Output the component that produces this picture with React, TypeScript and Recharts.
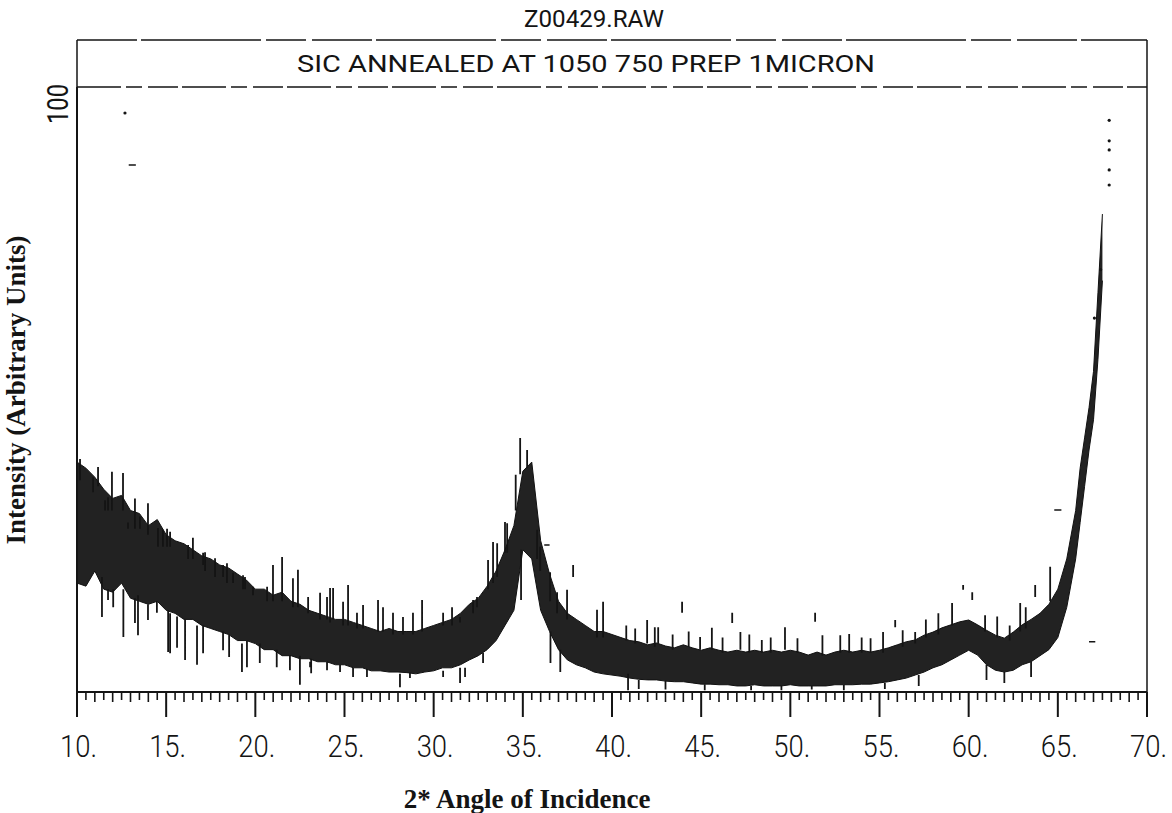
import React from 'react';
import { ComposedChart, Area, Line, XAxis, YAxis, ReferenceLine } from 'recharts';

// scan angle (2 theta) and the dark band of counts
const angles = [
  10, 10.5, 11, 11.5, 12, 12.5, 13, 13.5, 14, 14.5, 15, 15.5, 16, 16.5, 17, 17.5, 18, 18.5, 19, 19.5,
  20, 20.5, 21, 21.5, 22, 22.5, 23, 23.5, 24, 24.5, 25, 25.5, 26, 26.5, 27, 27.5, 28, 28.5, 29, 29.5,
  30, 30.5, 31, 31.5, 32, 32.5, 33, 33.5, 34, 34.5, 35, 35.5, 36, 36.5, 37, 37.5, 38, 38.5, 39, 39.5,
  40, 40.5, 41, 41.5, 42, 42.5, 43, 43.5, 44, 44.5, 45, 45.5, 46, 46.5, 47, 47.5, 48, 48.5, 49, 49.5,
  50, 50.5, 51, 51.5, 52, 52.5, 53, 53.5, 54, 54.5, 55, 55.5, 56, 56.5, 57, 57.5, 58, 58.5, 59, 59.5,
  60, 60.5, 61, 61.5, 62, 62.5, 63, 63.5, 64, 64.5, 65, 65.5, 66, 66.25, 66.5, 66.75, 67, 67.25, 67.5,
];
const bandHigh = [
  38, 37, 35.5, 33.5, 32, 32.5, 30, 29.5, 27.5, 28.5, 26, 25, 24.5, 23.5, 22.5, 22, 21, 20.5, 19.5, 18.5,
  17, 17, 16, 16.5, 15, 14.5, 13.5, 13, 12.5, 12, 12, 11.5, 11, 10.5, 10, 10.5, 10, 10, 10, 10.5,
  11, 11.5, 12, 13, 14.5, 15.5, 17.5, 20, 23.5, 27.5, 36.5, 38, 25, 19.5, 15, 13, 12, 11, 10, 10,
  9.5, 9, 8.5, 8.3, 7.8, 8.1, 7.6, 7.3, 7.8, 7.3, 6.9, 7.3, 6.9, 6.6, 6.9, 6.6, 6.9, 6.6, 6.9, 6.6,
  6.9, 6.6, 6.1, 6.6, 6.1, 6.6, 6.9, 6.6, 6.9, 6.6, 6.9, 7.3, 7.8, 8.3, 8.6, 9.4, 9.9, 10.6, 11.1, 11.6,
  11.9, 11.1, 10.2, 9.4, 8.9, 9.9, 11.1, 12, 13, 14.5, 17, 22, 30, 37, 42, 47, 53, 66, 79,
];
const bandLow = [
  18, 17.5, 20, 17, 16.5, 18, 15.5, 15, 14.5, 15, 13.5, 13, 12, 12, 11, 10.5, 10, 9.5, 8.5, 8.5,
  8, 7, 7, 6, 6, 5.5, 5.5, 5, 5, 4.5, 4.5, 4, 4, 3.5, 3.5, 3.3, 3.3, 3.2, 3, 3.3,
  3.5, 4, 4, 4.5, 5.3, 6, 7, 8.5, 11, 13.5, 23.5, 22, 13.5, 10, 7, 5.3, 4.5, 4, 3.3, 3,
  2.8, 2.6, 2.3, 2.1, 2, 2, 1.8, 1.7, 1.7, 1.5, 1.3, 1.3, 1.2, 1.2, 1, 1, 1.2, 1, 1, 1,
  1.2, 1, 1, 1, 1, 1.2, 1.2, 1.2, 1.3, 1.3, 1.5, 1.7, 2, 2.3, 2.8, 3.3, 4, 4.5, 5.3, 6.1,
  6.9, 6.1, 4.5, 3.6, 3.3, 3.6, 4.5, 5, 6, 7, 9, 14, 22, 28, 34, 40, 45, 55, 68,
];

// single noisy counts sticking out of the band: angle, lower end, upper end
const spikeAngle = [
  10.17, 10.9, 11.18, 11.57, 11.74, 11.96, 12.58, 12.86, 13.25, 13.53, 13.98, 14.54, 14.82, 15.05, 15.22,
  16.23, 16.5, 17.07, 17.18, 17.74, 18.19, 18.41, 18.75, 19.31, 19.42, 19.87, 20.66, 20.99, 21.5, 22.11,
  22.39, 22.96, 23.63, 24.02, 24.19, 24.36, 24.92, 25.2, 25.7, 26.04, 26.88, 27.16, 27.72, 28.28, 28.84,
  29.35, 30.53, 31.03, 31.48, 32.21, 32.43, 33.05, 33.33, 33.56, 34.0, 34.12, 34.6, 34.85, 35.24, 35.8,
  35.97, 36.53, 36.92, 37.48, 37.82, 39.16, 39.5, 40.8, 41.3, 41.97, 42.4, 42.59, 43.4, 43.93, 44.3,
  44.94, 45.6, 46.2, 46.74, 47.2, 47.7, 48.4, 48.9, 49.7, 50.4, 51.39, 51.8, 52.8, 53.3, 54.0,
  54.5, 55.2, 55.88, 56.3, 57.0, 57.6, 58.3, 59.07, 59.69, 60.2, 60.92, 61.6, 62.3, 62.89, 63.2,
  63.73, 64.57,
  11.4, 11.74, 12.03, 12.6, 13.25, 13.42, 13.98, 14.48, 15.11, 15.22, 15.61, 16.06, 16.73, 17.07, 18.19,
  18.53, 19.25, 19.53, 20.25, 21.2, 21.94, 22.5, 23.07, 23.13, 24.02, 24.75, 25.48, 26.26, 28.11, 28.67,
  30.53, 31.48, 31.76, 32.77, 34.9, 36.55, 37.1, 40.9, 41.5, 43.0, 45.2, 47.8, 49.5, 51.2, 53.0,
  55.3, 57.2, 61.0, 62.0, 63.5,
];
const spikeLow = [
  35, 33, 34, 30, 30, 30, 30, 27, 27, 27, 26, 24, 24, 24, 24,
  22, 22, 21, 20, 19, 19, 18, 18, 17, 17, 16, 15, 15, 15, 14,
  14, 13, 12, 12, 11.5, 12, 11, 11, 10.5, 10.5, 10, 10, 9.5, 9.5, 9.5,
  10, 11, 11, 11.5, 13, 14, 17, 18, 19, 23, 23, 30, 36, 37, 22,
  20, 15, 13, 12, 19, 9, 9, 8.5, 8, 8, 7.5, 8, 7, 13.1, 7.5,
  7, 7, 6.5, 11.4, 7, 6.5, 6.5, 6.5, 7, 6.5, 11.6, 6, 6.5, 6.5, 6.5,
  6.5, 6.5, 10.7, 7.5, 8, 9, 9.5, 11, 16.9, 15.2, 10, 9, 8.5, 10, 10.5,
  15.7, 15,
  12.4, 15.2, 14, 9.1, 11.4, 9.4, 11.9, 13.1, 6.6, 6.4, 7.3, 5.3, 4.5, 6.4, 6.9,
  5.8, 3.3, 4.1, 4.8, 4.1, 3.6, 1.2, 4.1, 3.1, 3.6, 3.3, 2.5, 2.5, 0.8, 2.3,
  2.5, 1.5, 2.5, 4.8, 15.2, 4.8, 3.3, 0.3, 0.5, 0.4, 0.3, 0.3, 0.3, 0.4, 0.3,
  0.5, 1.0, 2, 1.5, 2.5,
];
const spikeHigh = [
  38.5, 35.5, 37.2, 31.7, 32.2, 36.4, 36.2, 28, 32, 29, 31.2, 27.1, 26.8, 27, 26.5,
  24.3, 25.5, 23, 23.1, 22.1, 21, 21.3, 19.7, 19.3, 19, 17.4, 17.4, 21, 22.3, 18.8,
  20.2, 15.7, 16.4, 15.7, 17.2, 17.2, 14.9, 17.7, 13.1, 14.4, 15.2, 14, 13.1, 12.4, 13.1,
  15.2, 13.1, 14, 12.4, 15.2, 15.7, 21.8, 24.8, 24.6, 28.1, 27.9, 35.9, 42, 40, 26.8,
  24, 19.8, 16.5, 16.9, 21, 13.6, 14.9, 11, 10.5, 11.9, 10.7, 10.7, 9.5, 14.9, 10,
  9.1, 10.6, 9, 13.1, 9.9, 9.5, 8.6, 9, 10.7, 8.9, 13.1, 9.4, 9.4, 9.6, 9,
  8.9, 9.9, 11.9, 10.2, 9.9, 12, 13, 14.7, 17.7, 16.5, 12.7, 12.5, 11, 14.7, 14,
  17.7, 20.7,
  19, 17, 17, 17, 15.5, 16, 14.5, 15, 13.5, 13, 12.5, 12, 11, 11, 10,
  9.5, 8, 8.5, 8, 7, 6.1, 6, 5, 5.5, 5, 4.5, 4, 3.8, 3, 3.2,
  3.5, 4, 4, 6.5, 23.5, 10, 7, 3, 2, 1.8, 1.3, 1, 1, 1, 1.2,
  1.5, 2.8, 4.5, 3.3, 5,
];

// short level dashes and loose dots
const dashFrom = [12.9, 64.8, 66.75, 36.2];
const dashTo = [13.3, 65.2, 67.1, 36.5];
const dashValue = [87.1, 30.1, 8.3, 24.3];
const dotAngle = [12.69, 67.88, 67.88, 67.88, 67.88, 67.88, 67.4, 67.05];
const dotValue = [95.7, 94.5, 91.1, 89.6, 86.3, 83.8, 69.8, 61.8];

const majorTicks = [10, 15, 20, 25, 30, 35, 40, 45, 50, 55, 60, 65, 70];
const tickLabels = ['10.', '15.', '20.', '25.', '30.', '35.', '40.', '45.', '50.', '55.', '60.', '65.', '70.'];
const allTicks = Array.from({ length: 121 }, (_, i) => 10 + i * 0.5);

const bandData = angles.map((x, i) => ({ x, band: [bandLow[i], bandHigh[i]] }));
const spikeData: any[] = [];
spikeAngle.forEach((x, i) => {
  spikeData.push({ x, v: spikeLow[i] }, { x, v: spikeHigh[i] }, { x, v: null });
});
const dashData: any[] = [];
dashFrom.forEach((x, i) => {
  dashData.push({ x, v: dashValue[i] }, { x: dashTo[i], v: dashValue[i] }, { x: dashTo[i], v: null });
});
const dotData: any[] = [];
dotAngle.forEach((x, i) => {
  dotData.push({ x, v: dotValue[i] }, { x, v: null });
});

const ink = '#141414';
const plotter = 'Roboto, "DejaVu Sans", sans-serif';

const AngleTick = (props: any) => {
  const { x, y, payload } = props;
  const v = payload.value;
  const idx = majorTicks.indexOf(v);
  if (idx >= 0) {
    return (
      <g>
        <line x1={x} x2={x} y1={y} y2={y + 25} stroke={ink} strokeWidth={2} />
        <text x={x - 17} y={y + 65} fontFamily={plotter} fontWeight={300} fontSize={31} fill={ink}
          textLength={37} lengthAdjust="spacingAndGlyphs">{tickLabels[idx]}</text>
      </g>
    );
  }
  const len = Number.isInteger(v) ? 10 : 8;
  return <line x1={x} x2={x} y1={y} y2={y + len} stroke={ink} strokeWidth={1.6} />;
};

export default function App() {
  return (
    <div style={{ position: 'absolute', left: 0, top: 0, width: 1172, height: 813, background: '#fff' }}>
      <ComposedChart width={1172} height={813} data={bandData}
        margin={{ top: 87, right: 25, bottom: 91, left: 77 }}>
        <XAxis type="number" dataKey="x" domain={[10, 70]} ticks={allTicks} interval={0}
          tick={<AngleTick />} tickLine={false} tickSize={0} tickMargin={0} height={30}
          axisLine={{ stroke: ink, strokeWidth: 2 }} allowDataOverflow />
        <YAxis type="number" dataKey="v" domain={[0, 100]} hide allowDataOverflow />
        <ReferenceLine x={10} stroke={ink} strokeWidth={2} />
        <ReferenceLine x={70} stroke={ink} strokeWidth={1.5} />
        <ReferenceLine y={100} stroke={ink} strokeWidth={1.5} strokeDasharray="44 5 16 6 30 4" />
        <Area dataKey="band" type="linear" fill="#222" fillOpacity={1} stroke="#111"
          strokeWidth={1} isAnimationActive={false} />
        <Line data={spikeData} dataKey="v" stroke={ink} strokeWidth={1.8} dot={false}
          connectNulls={false} isAnimationActive={false} />
        <Line data={dashData} dataKey="v" stroke={ink} strokeWidth={1.5} dot={false}
          connectNulls={false} isAnimationActive={false} />
        <Line data={dotData} dataKey="v" stroke="none" dot={{ r: 1.6, fill: ink, stroke: 'none' }}
          connectNulls={false} isAnimationActive={false} />
      </ComposedChart>
      <svg width={1172} height={813} style={{ position: 'absolute', left: 0, top: 0, pointerEvents: 'none' }}>
        <text x={594} y={27} textAnchor="middle" fontFamily={plotter} fontSize={24} fill={ink}
          textLength={140} lengthAdjust="spacingAndGlyphs">Z00429.RAW</text>
        <line x1={77} x2={1147} y1={40} y2={40} stroke={ink} strokeWidth={1.5} strokeDasharray="60 4 120 5 40 6" />
        <line x1={77} x2={77} y1={40} y2={87} stroke={ink} strokeWidth={1.5} />
        <line x1={1147} x2={1147} y1={40} y2={87} stroke={ink} strokeWidth={1.5} />
        <text x={586} y={72} textAnchor="middle" fontFamily={plotter} fontSize={24} fill={ink}
          textLength={578} lengthAdjust="spacingAndGlyphs">SIC ANNEALED AT 1050 750 PREP 1MICRON</text>
        <text x={68} y={104} transform="rotate(-90 68 104)" textAnchor="middle" fontFamily={plotter}
          fontSize={29} fill={ink} textLength={40} lengthAdjust="spacingAndGlyphs">100</text>
        <text x={25} y={390} transform="rotate(-90 25 390)" textAnchor="middle"
          fontFamily='"Liberation Serif", serif' fontWeight="bold" fontSize={27} fill={ink}>
          Intensity (Arbitrary Units)
        </text>
        <text x={527} y={808} textAnchor="middle" fontFamily='"Liberation Serif", serif'
          fontWeight="bold" fontSize={27} fill={ink}>2* Angle of Incidence</text>
      </svg>
    </div>
  );
}
